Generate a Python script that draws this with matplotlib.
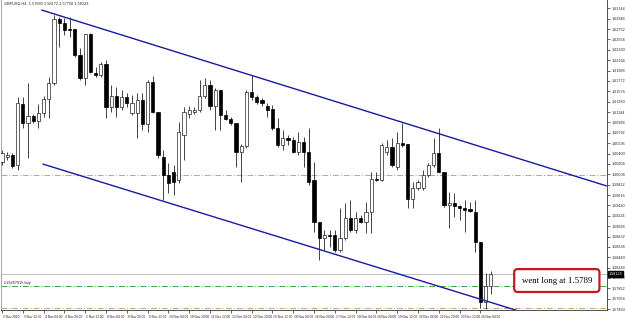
import numpy as np
import matplotlib
matplotlib.use('Agg')
import matplotlib.pyplot as plt
import matplotlib.transforms as mtransforms

# GBPUSD H4 candles, 2 Nov - 24 Nov 2010
opens = [1.6024, 1.6033, 1.6037, 1.6018, 1.6134, 1.6098, 1.6111, 1.6102, 1.6117, 1.6143,
         1.6173, 1.6294, 1.6287, 1.6275, 1.6275, 1.6226, 1.6183, 1.6266, 1.6192, 1.6188,
         1.6209, 1.6128, 1.6149, 1.6128, 1.6147, 1.6117, 1.6117, 1.6141, 1.6096, 1.6175,
         1.6119, 1.6033, 1.5999, 1.6005, 1.5990, 1.6075, 1.6115, 1.6119, 1.6122, 1.6149,
         1.6170, 1.6130, 1.6160, 1.6113, 1.6105, 1.6098, 1.6043, 1.6054, 1.6156, 1.6147,
         1.6141, 1.6130, 1.6124, 1.6088, 1.6056, 1.6069, 1.6066, 1.6043, 1.6062, 1.6043,
         1.5990, 1.5911, 1.5880, 1.5886, 1.5886, 1.5858, 1.5880, 1.5918, 1.5896, 1.5918,
         1.5911, 1.5930, 1.5992, 1.5990, 1.6043, 1.6052, 1.6015, 1.6060, 1.6058, 1.5954,
         1.5975, 1.5975, 1.5999, 1.6018, 1.6041, 1.6005, 1.5943, 1.5947, 1.5941, 1.5937,
         1.5935, 1.5930, 1.5873, 1.5759, 1.5789]
highs = [1.6047, 1.6043, 1.6041, 1.6147, 1.6147, 1.6173, 1.6115, 1.6134, 1.6149, 1.6185,
         1.6302, 1.6298, 1.6296, 1.6298, 1.6275, 1.6240, 1.6266, 1.6268, 1.6204, 1.6213,
         1.6217, 1.6170, 1.6166, 1.6160, 1.6154, 1.6151, 1.6154, 1.6154, 1.6179, 1.6187,
         1.6119, 1.6047, 1.6022, 1.6018, 1.6100, 1.6128, 1.6130, 1.6128, 1.6179, 1.6183,
         1.6179, 1.6164, 1.6160, 1.6122, 1.6109, 1.6098, 1.6058, 1.6160, 1.6188, 1.6151,
         1.6145, 1.6136, 1.6132, 1.6107, 1.6085, 1.6075, 1.6071, 1.6081, 1.6071, 1.6088,
         1.6024, 1.5911, 1.5896, 1.5896, 1.5896, 1.5937, 1.5947, 1.5952, 1.5930, 1.5924,
         1.5948, 1.6005, 1.6005, 1.6060, 1.6066, 1.6069, 1.6081, 1.6098, 1.6058, 1.5986,
         1.5990, 1.6009, 1.6022, 1.6069, 1.6088, 1.6005, 1.5967, 1.5965, 1.5943, 1.5952,
         1.5948, 1.5952, 1.5873, 1.5814, 1.58172]
lows = [1.6018, 1.6028, 1.6013, 1.6009, 1.6088, 1.6032, 1.6098, 1.6088, 1.6109, 1.6107,
        1.6170, 1.6241, 1.6264, 1.6260, 1.6223, 1.6179, 1.6170, 1.6192, 1.6185, 1.6185,
        1.6107, 1.6119, 1.6109, 1.6122, 1.6128, 1.6113, 1.6069, 1.6085, 1.6081, 1.6117,
        1.6032, 1.5952, 1.5965, 1.5962, 1.5984, 1.6028, 1.6107, 1.6115, 1.6119, 1.6145,
        1.6122, 1.6085, 1.6085, 1.6104, 1.6094, 1.6015, 1.5986, 1.6050, 1.6141, 1.6134,
        1.6130, 1.6109, 1.6085, 1.6052, 1.6047, 1.6056, 1.6041, 1.6037, 1.6015, 1.5981,
        1.5892, 1.5839, 1.5858, 1.5863, 1.5854, 1.5854, 1.5877, 1.5892, 1.5890, 1.5909,
        1.5890, 1.5890, 1.5988, 1.5988, 1.6037, 1.6015, 1.6009, 1.6052, 1.5937, 1.5937,
        1.5971, 1.5971, 1.5996, 1.6015, 1.6005, 1.5939, 1.5899, 1.5920, 1.5914, 1.5892,
        1.5930, 1.5854, 1.5748, 1.5746, 1.5775]
closes = [1.6041, 1.6037, 1.6016, 1.6136, 1.6098, 1.6111, 1.6102, 1.6117, 1.6143, 1.6173,
          1.6294, 1.6287, 1.6274, 1.6274, 1.6226, 1.6183, 1.6266, 1.6194, 1.6188, 1.6209,
          1.6128, 1.6149, 1.6128, 1.6147, 1.6136, 1.6136, 1.6141, 1.6096, 1.6175, 1.6119,
          1.6037, 1.5999, 1.5984, 1.5986, 1.6081, 1.6119, 1.6122, 1.6122, 1.6149, 1.6170,
          1.6130, 1.6160, 1.6113, 1.6105, 1.6098, 1.6043, 1.6054, 1.6156, 1.6147, 1.6137,
          1.6136, 1.6122, 1.6088, 1.6056, 1.6069, 1.6066, 1.6043, 1.6062, 1.6043, 1.5986,
          1.5911, 1.5880, 1.5886, 1.5885, 1.5858, 1.5880, 1.5918, 1.5896, 1.5918, 1.5911,
          1.5930, 1.5992, 1.5990, 1.6056, 1.6052, 1.6018, 1.6060, 1.6056, 1.5954, 1.5975,
          1.5986, 1.5999, 1.6018, 1.6041, 1.6005, 1.5943, 1.5947, 1.5941, 1.5937, 1.5933,
          1.5931, 1.5873, 1.5759, 1.5789, 1.58123]

date_labels = ['2 Nov 2010', '3 Nov 12:00', '4 Nov 04:00', '4 Nov 20:00', '5 Nov 12:00',
               '8 Nov 04:00', '8 Nov 20:00', '9 Nov 12:00', '10 Nov 04:00', '10 Nov 20:00',
               '11 Nov 12:00', '12 Nov 04:00', '12 Nov 20:00', '15 Nov 12:00', '16 Nov 04:00',
               '16 Nov 20:00', '17 Nov 12:00', '18 Nov 04:00', '18 Nov 20:00', '19 Nov 12:00',
               '22 Nov 04:00', '22 Nov 20:00', '23 Nov 12:00', '24 Nov 04:00']

# channel lines (bar index, price)
upper_line = [(7.7, 1.6311), (116.2, 1.5979)]
lower_line = [(7.9, 1.6020), (116.3, 1.5691)]

take_profit = 1.6000
stop_loss = 1.5748
entry = 1.5789
bid = 1.58123

opens, highs, lows, closes = map(np.array, (opens, highs, lows, closes))
idx = np.arange(len(opens))

small = dict(family='Liberation Sans', color='#222222')

fig = plt.figure(figsize=(6.25, 3.18), dpi=100)
ax = fig.add_axes([1 / 625, 8 / 318, 606 / 625, 310 / 318])
ax.set_xlim(-0.19, 116.35)
ax.set_ylim(1.57443, 1.63302)

# horizontal order / price lines
ax.axhline(take_profit, color='#c8a27a', lw=0.7, ls=(0, (6, 2, 1, 2)))
ax.axhline(stop_loss, color='#c8a27a', lw=0.7, ls=(0, (6, 2, 1, 2)))
ax.axhline(entry, color='#3aa63a', lw=0.7, ls=(0, (6, 2, 1, 2)))
ax.axhline(bid, color='#c0c0c0', lw=0.7)
ax.text(0.3, entry + 0.0003, '#19297915 buy', fontsize=2.8, va='bottom', **small)

# candles
up = closes >= opens
ax.vlines(idx, lows, highs, color='#222222', lw=0.6, zorder=2)
body_lo = np.minimum(opens, closes)
body_h = np.maximum(np.abs(closes - opens), 0.00004)
ax.bar(idx[up], body_h[up], bottom=body_lo[up], width=0.62, color='white',
       edgecolor='#222222', linewidth=0.5, zorder=3)
ax.bar(idx[~up], body_h[~up], bottom=body_lo[~up], width=0.62, color='black',
       edgecolor='black', linewidth=0.5, zorder=3)

# channel
for pts in (upper_line, lower_line):
    (x0, y0), (x1, y1) = pts
    ax.plot([x0, x1], [y0, y1], color='#1a1aa0', lw=1.0, zorder=4)

# axes styling
ax.spines['top'].set_visible(False)
ax.spines['left'].set_color('#999999')
ax.spines['left'].set_linewidth(0.6)
ax.spines['bottom'].set_color('#333333')
ax.spines['bottom'].set_linewidth(0.6)
ax.spines['right'].set_color('#333333')
ax.spines['right'].set_linewidth(0.6)

ax.yaxis.tick_right()
yt = np.arange(1.5746, 1.6316, 0.00196)
ax.set_yticks(yt)
ax.set_yticklabels(['%.5f' % v for v in yt], family='Liberation Sans')
ax.tick_params(axis='y', labelsize=2.7, length=2, width=0.5, pad=1.2, colors='#222222')

ax.set_xticks(idx[::4][:len(date_labels)])
ax.set_xticklabels(date_labels, ha='left', family='Liberation Sans')
ax.tick_params(axis='x', labelsize=2.3, length=2.5, width=0.5, pad=1, colors='#222222')
for lbl in ax.get_xticklabels():
    lbl.set_x(lbl.get_position()[0])
offset = mtransforms.ScaledTranslation(1 / 100, 0, fig.dpi_scale_trans)
for lbl in ax.get_xticklabels():
    lbl.set_transform(lbl.get_transform() + offset)

# current price marker on the axis
trans = mtransforms.blended_transform_factory(ax.transAxes, ax.transData)
ax.text(1.003, bid, '%.5f' % bid, transform=trans, fontsize=2.7, color='white',
        family='Liberation Sans', va='center', ha='left', clip_on=False,
        bbox=dict(boxstyle='square,pad=0.2', fc='black', ec='black'))

# header
ax.text(0.005, 0.995, 'GBPUSD,H4  1.57890 1.58172 1.57750 1.58123', transform=ax.transAxes,
        fontsize=2.8, va='top', ha='left', **small)

# note box
ax.text(106.7, 1.5800, 'went long at 1.5789', fontsize=6.3, family='Liberation Serif',
        ha='center', va='center', zorder=6,
        bbox=dict(boxstyle='round,pad=0.85,rounding_size=0.4', fc='white', ec='#c8141e', lw=1.6))

fig.savefig('out.png', dpi=100)
